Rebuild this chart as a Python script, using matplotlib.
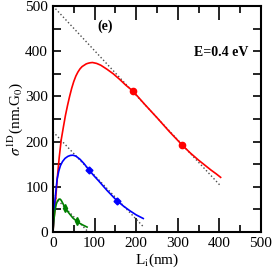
import matplotlib
matplotlib.use("Agg")
import matplotlib.pyplot as plt
from matplotlib.ticker import MultipleLocator

# Curves
red_L = [0, 2, 5, 10, 15, 20, 25, 30, 35, 40, 45, 50, 55, 60, 65, 70, 75, 80, 85, 90, 95, 105,
         115, 130, 145, 160, 175, 192, 220, 250, 280, 311, 330, 350, 365, 380, 392, 403]
red_s = [0, 24, 56, 115, 165, 205, 232, 258, 280, 300, 318, 333, 345, 354, 361, 366, 369, 372, 373.5, 374.5, 375, 373,
         369, 360, 350, 338, 325, 312, 283, 253, 222, 192, 175, 159, 148, 137, 129, 121]
blue_L = [0, 2, 5, 10, 14, 18, 23, 29, 36, 42, 48, 55, 65, 75, 86, 98, 110, 130, 153, 170, 185, 200, 217]
blue_s = [0, 35, 72, 117, 135, 147, 156, 163, 167.5, 169.5, 170, 168, 161, 151, 138, 125, 113, 92, 70, 57, 47, 38, 30]
green_L = [0, 2, 5, 8, 11, 14, 17, 20, 24, 29, 35, 40, 48, 57, 65, 72, 82]
green_s = [0, 25, 48, 62, 69, 72.5, 73, 70, 63, 54, 46, 40, 31, 24, 19, 15.5, 11]

# Markers
red_mL = [192, 311]
red_ms = [313, 192]
blue_mL = [86, 153]
blue_ms = [138, 68]
green_mL = [29, 57]
green_ms = [53, 24]

# Dotted asymptotic lines
red_dL = [0, 403]
red_ds = [500, 102]
blue_dL = [0, 217]
blue_ds = [222, 12]
green_dL = [0, 85]
green_ds = [82, 0]

plt.rcParams['font.family'] = ['Liberation Serif', 'DejaVu Serif']
plt.rcParams['mathtext.fontset'] = 'stix'

fig = plt.figure(figsize=(2.73, 2.73), dpi=100)
ax = fig.add_axes([0.194, 0.150, 0.762, 0.828])

ax.plot(red_dL, red_ds, ':', color='0.3', lw=1)
ax.plot(blue_dL, blue_ds, ':', color='0.3', lw=1)
ax.plot(green_dL, green_ds, ':', color='0.3', lw=1)

ax.plot(red_L, red_s, '-', color='red', lw=1.2)
ax.plot(blue_L, blue_s, '-', color='blue', lw=1.2)
ax.plot(green_L, green_s, '-', color='green', lw=1.2)

ax.plot(red_mL, red_ms, 'o', color='red', ms=4.5)
ax.plot(blue_mL, blue_ms, 'D', color='blue', ms=3.5)
ax.plot(green_mL, green_ms, 'd', color='green', ms=4)

ax.set_xlim(0, 500)
ax.set_ylim(0, 500)
ax.xaxis.set_major_locator(MultipleLocator(100))
ax.xaxis.set_minor_locator(MultipleLocator(50))
ax.yaxis.set_major_locator(MultipleLocator(100))
ax.yaxis.set_minor_locator(MultipleLocator(50))
ax.tick_params(which='both', direction='in', top=True, right=True, labelsize=11, width=1.2)
ax.tick_params(axis='x', which='major', length=10)
ax.tick_params(axis='x', which='minor', length=5)
ax.tick_params(axis='y', which='both', length=6)
for sp in ax.spines.values():
    sp.set_linewidth(1.5)

ax.text(125, 455, '(e)', fontsize=10, fontweight='bold', ha='center', va='center')
ax.text(404, 398, 'E=0.4 eV', fontsize=10, fontweight='bold', ha='center', va='center')

ax.set_xlabel(r'L$_\mathrm{i}$(nm)', fontsize=11, labelpad=1)
ax.set_ylabel(r'$\sigma^{\mathrm{1D}}$(nm.G$_0$)', fontsize=11, labelpad=0)

fig.savefig('out.png', dpi=100)
